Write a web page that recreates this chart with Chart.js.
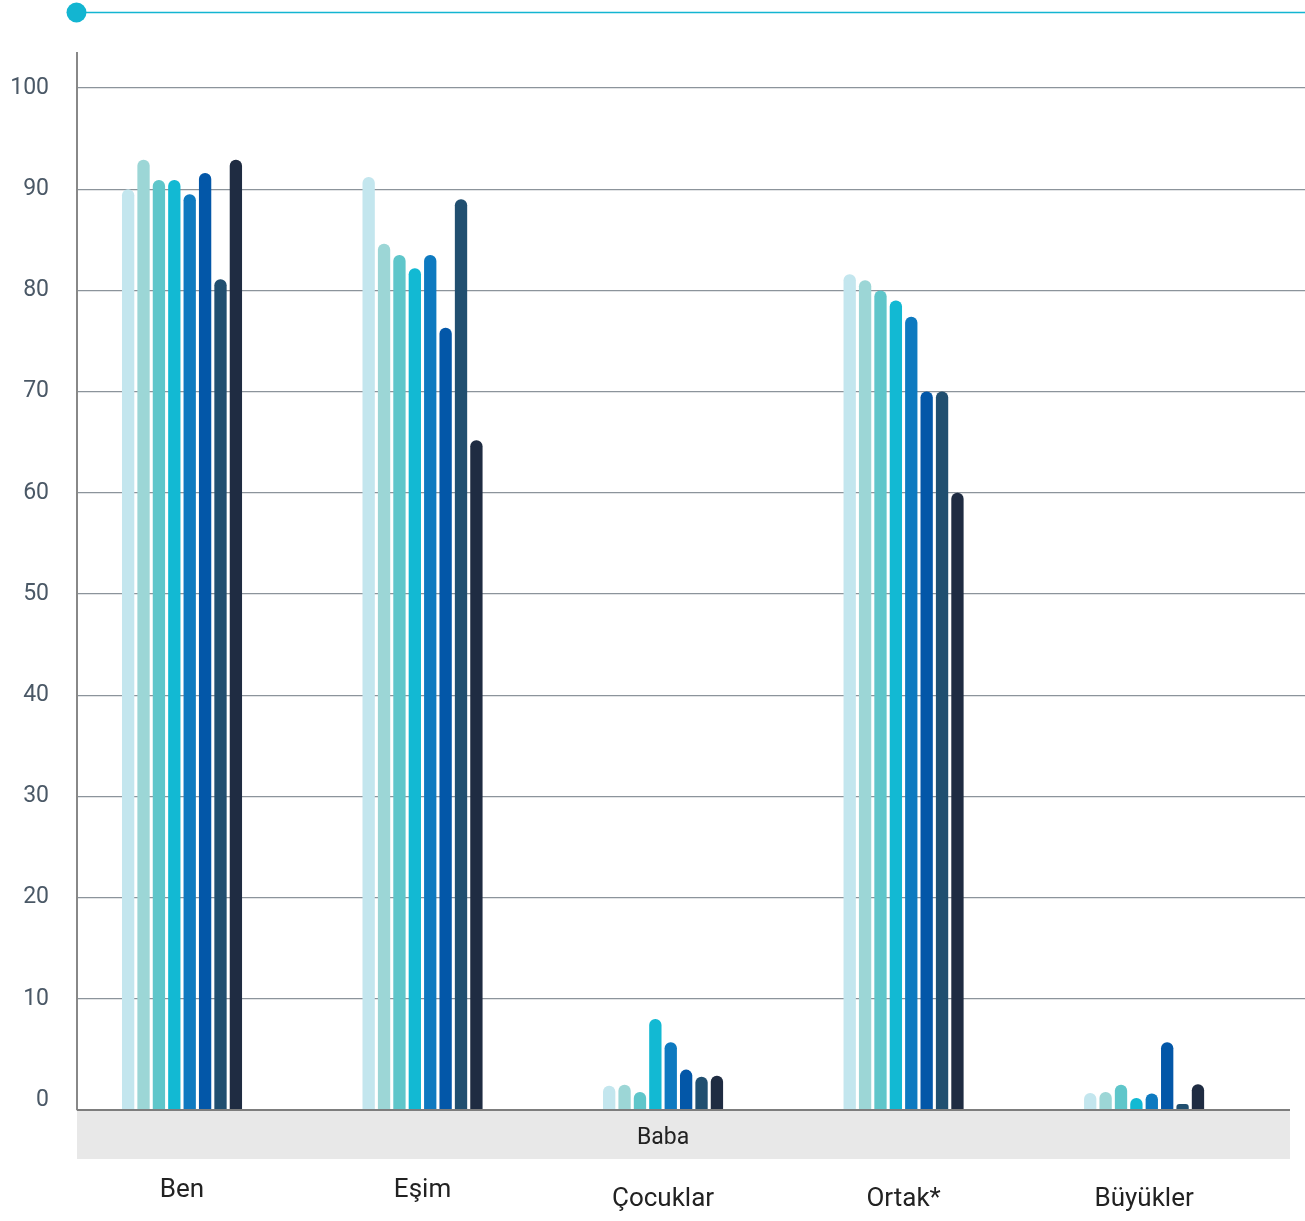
<!DOCTYPE html>
<html lang="tr">
<head>
<meta charset="utf-8">
<title>Baba</title>
<script src="https://cdn.jsdelivr.net/npm/chart.js@4.4.1/dist/chart.umd.min.js"></script>
<style>
  body { margin: 0; background: #fff; }
  #kutu { width: 1305px; height: 1221px; position: relative; }
</style>
</head>
<body>
<div id="kutu"><canvas id="chartBaba"></canvas></div>
<script>
// Kategoriler ve seriler (Baba)
const kategoriler = ["Ben", "Eşim", "Çocuklar", "Ortak*", "Büyükler"];
const grupBasligi = "Baba";

const seri1 = [90.0, 91.2, 1.4, 81.6, 0.7];
const seri2 = [92.9, 84.6, 1.5, 81.0, 0.8];
const seri3 = [90.9, 83.5, 0.8, 80.0, 1.5];
const seri4 = [90.9, 82.2, 8.0, 79.0, 0.2];
const seri5 = [89.5, 83.5, 5.7, 77.4, 0.65];
const seri6 = [91.6, 76.3, 3.0, 70.0, 5.7];
const seri7 = [81.1, 89.0, 2.3, 70.0, -0.4];
const seri8 = [92.9, 65.2, 2.4, 60.0, 1.55];

const yTikler = [0, 10, 20, 30, 40, 50, 60, 70, 80, 90, 100];

const renkler = [
  "#C3E6EE",
  "#9CD6D6",
  "#5FC6CA",
  "#12B9D3",
  "#0E7AC0",
  "#0357A8",
  "#214F70",
  "#1F2C42"
];

const seriler = [seri1, seri2, seri3, seri4, seri5, seri6, seri7, seri8];

// eksen sinirlari (0 cizgisi eksenin biraz ustunde)
const yMin = -0.99;
const yMax = 103.46;

const datasets = seriler.map((s, i) => ({
  label: "Seri " + (i + 1),
  data: s.map((v, k) => ({ x: k, y: v })),
  backgroundColor: renkler[i],
  borderRadius: 6,
  borderSkipped: "start",
  base: yMin,
  categoryPercentage: 0.512,
  barPercentage: 0.8
}));

// Ust dekor, gri bant, kategori etiketleri
const dekorPlugin = {
  id: "dekor",
  afterDraw(chart) {
    const ctx = chart.ctx;
    const area = chart.chartArea;
    const xs = chart.scales.x;
    ctx.save();

    // ust cizgi ve nokta
    ctx.strokeStyle = "#13B5D1";
    ctx.lineWidth = 1.5;
    ctx.beginPath();
    ctx.moveTo(77, 12.5);
    ctx.lineTo(chart.width, 12.5);
    ctx.stroke();
    ctx.fillStyle = "#13B5D1";
    ctx.beginPath();
    ctx.arc(76.5, 12.5, 10, 0, Math.PI * 2);
    ctx.fill();

    // gri bant
    ctx.fillStyle = "#E8E8E8";
    ctx.fillRect(area.left, area.bottom + 1, 1290 - area.left, 48);

    // x ekseni
    ctx.strokeStyle = "#7D7D7D";
    ctx.lineWidth = 2;
    ctx.beginPath();
    ctx.moveTo(area.left, area.bottom);
    ctx.lineTo(1290, area.bottom);
    ctx.stroke();

    // grup basligi
    ctx.fillStyle = "#222";
    ctx.font = "23px Roboto";
    ctx.textAlign = "center";
    ctx.textBaseline = "alphabetic";
    ctx.fillText(grupBasligi, xs.getPixelForValue(2), area.bottom + 34);

    // kategori etiketleri
    const tabanY = [1197, 1197, 1206, 1206, 1206];
    ctx.font = "26px Roboto";
    kategoriler.forEach((k, i) => {
      ctx.fillText(k, xs.getPixelForValue(i), tabanY[i]);
    });
    ctx.restore();
  }
};

const ctx = document.getElementById("chartBaba");
new Chart(ctx, {
  type: "bar",
  data: { datasets },
  options: {
    responsive: true,
    maintainAspectRatio: false,
    animation: false,
    layout: { padding: { top: 53, right: 0, bottom: 111, left: 0 } },
    plugins: {
      legend: { display: false },
      tooltip: { enabled: false }
    },
    scales: {
      x: {
        type: "linear",
        display: false,
        min: -0.4366,
        max: 4.669,
        offset: false,
        ticks: { stepSize: 1, includeBounds: false }
      },
      y: {
        min: yMin,
        max: yMax,
        afterFit: (s) => { s.width = 77; },
        afterBuildTicks: (s) => { s.ticks = yTikler.map(v => ({ value: v })); },
        border: { display: true, color: "#888888", width: 2 },
        grid: {
          drawTicks: false,
          lineWidth: 1.2,
          color: (c) => (c.tick && c.tick.value === 0 ? "rgba(0,0,0,0)" : "#8C949B")
        },
        ticks: {
          padding: 28,
          color: "#4A5866",
          font: { family: "Roboto", size: 23 }
        }
      }
    }
  },
  plugins: [dekorPlugin]
});
</script>
</body>
</html>
